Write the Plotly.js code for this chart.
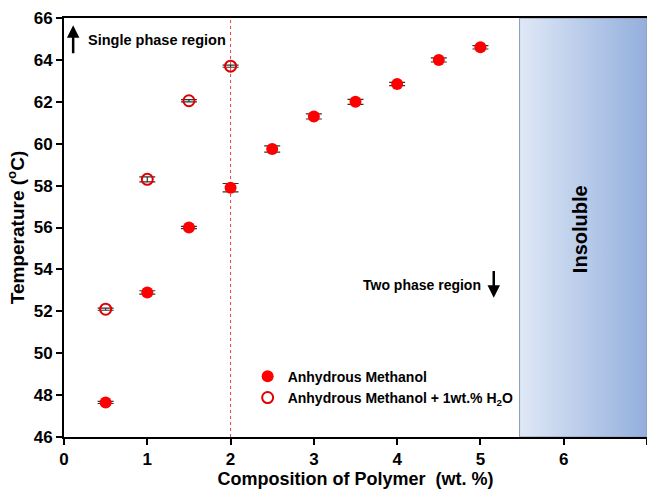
<!DOCTYPE html>
<html><head><meta charset="utf-8">
<script src="https://cdn.plot.ly/plotly-3.0.1.min.js"></script>
<style>body{margin:0;padding:0;background:#fff}#c{width:647px;height:491px}</style>
</head><body><div id="c"></div>
<script>
const compFilled = [0.5, 1.0, 1.5, 2.0, 2.5, 3.0, 3.5, 4.0, 4.5, 5.0];
const tempFilled = [47.65, 52.9, 56.0, 57.9, 59.75, 61.3, 62.0, 62.85, 64.0, 64.6];
const errFilled  = [0.05, 0.08, 0.05, 0.2, 0.15, 0.12, 0.12, 0.08, 0.1, 0.08];
const compOpen = [0.5, 1.0, 1.5, 2.0];
const tempOpen = [52.1, 58.3, 62.05, 63.7];
const errOpen  = [0.05, 0.12, 0.05, 0.05];
const insolubleX = [5.47, 7.0];
const yRange = [46, 66];
const xRange = [0, 7];

const traces = [
  {
    x: [insolubleX[0], insolubleX[1], insolubleX[1], insolubleX[0], insolubleX[0]],
    y: [yRange[0], yRange[0], yRange[1], yRange[1], yRange[0]],
    type: 'scatter', mode: 'lines', fill: 'toself',
    line: {color: '#8a9ab5', width: 1},
    fillgradient: {type: 'horizontal', colorscale: [[0, '#dfe8f6'], [1, '#93afdd']]},
    showlegend: false, hoverinfo: 'skip'
  },
  {
    x: [2, 2], y: yRange, type: 'scatter', mode: 'lines',
    line: {color: '#e8404a', width: 1, dash: 'dot'}, showlegend: false, hoverinfo: 'skip'
  },
  {
    x: compFilled, y: tempFilled, type: 'scatter', mode: 'markers',
    name: 'Anhydrous Methanol',
    marker: {color: '#ff0000', size: 12, symbol: 'circle'},
    error_y: {type: 'data', array: errFilled, visible: true, color: '#333', thickness: 1.2, width: 8}
  },
  {
    x: compOpen, y: tempOpen, type: 'scatter', mode: 'markers',
    name: 'Anhydrous Methanol + 1wt.% H<sub>2</sub>O',
    marker: {color: 'rgba(0,0,0,0)', size: 11, symbol: 'circle', line: {color: '#e00000', width: 2}},
    error_y: {type: 'data', array: errOpen, visible: true, color: '#333', thickness: 1.2, width: 8}
  }
];

const layout = {
  width: 647, height: 491,
  margin: {l: 64, r: 0, t: 18, b: 54},
  paper_bgcolor: '#fff', plot_bgcolor: '#fff',
  font: {family: 'Liberation Sans, Arial, sans-serif', color: '#000'},
  showlegend: true,
  legend: {x: 0.315, y: 0.182, xanchor: 'left', yanchor: 'top', bgcolor: 'rgba(0,0,0,0)',
           font: {size: 14, family: 'Liberation Sans, Arial', weight: 'bold'}, tracegroupgap: 4, itemwidth: 30},
  xaxis: {
    range: xRange, showgrid: false, zeroline: false, showline: true, mirror: true,
    linecolor: '#000', linewidth: 2, ticks: 'outside', ticklen: 6, tickwidth: 2, tickcolor: '#000',
    dtick: 1, tick0: 0,
    tickfont: {size: 17, weight: 'bold'},
    title: {text: 'Composition of Polymer  (wt. %)', font: {size: 18, weight: 'bold'}, standoff: 1}
  },
  yaxis: {
    range: yRange, showgrid: false, zeroline: false, showline: true,
    linecolor: '#000', linewidth: 2, ticks: 'outside', ticklen: 6, tickwidth: 2, tickcolor: '#000',
    dtick: 2, tick0: 46,
    tickfont: {size: 17, weight: 'bold'},
    title: {text: 'Temperature (<sup>o</sup>C)', font: {size: 19, weight: 'bold'}, standoff: 4}
  },
  annotations: [
    {x: 0.26, y: 64.95, xref: 'x', yref: 'y', text: '<b>Single phase region</b>', showarrow: false,
     xanchor: 'left', font: {size: 14.5}},
    {x: 0.11, y: 65.65, ax: 0.11, ay: 64.25, xref: 'x', yref: 'y', axref: 'x', ayref: 'y', text: '',
     showarrow: true, arrowhead: 2, arrowsize: 1, arrowwidth: 2.5, arrowcolor: '#000'},
    {x: 5.03, y: 53.25, xref: 'x', yref: 'y', text: '<b>Two phase region</b>', showarrow: false,
     xanchor: 'right', font: {size: 14}},
    {x: 5.16, y: 52.65, ax: 5.16, ay: 54.0, xref: 'x', yref: 'y', axref: 'x', ayref: 'y', text: '',
     showarrow: true, arrowhead: 2, arrowsize: 1, arrowwidth: 2.5, arrowcolor: '#000'},
    {x: 6.19, y: 55.9, xref: 'x', yref: 'y', text: '<b>Insoluble</b>', showarrow: false,
     textangle: -90, font: {size: 20}}
  ]
};

Plotly.newPlot('c', traces, layout, {displayModeBar: false, staticPlot: true});
</script></body></html>
